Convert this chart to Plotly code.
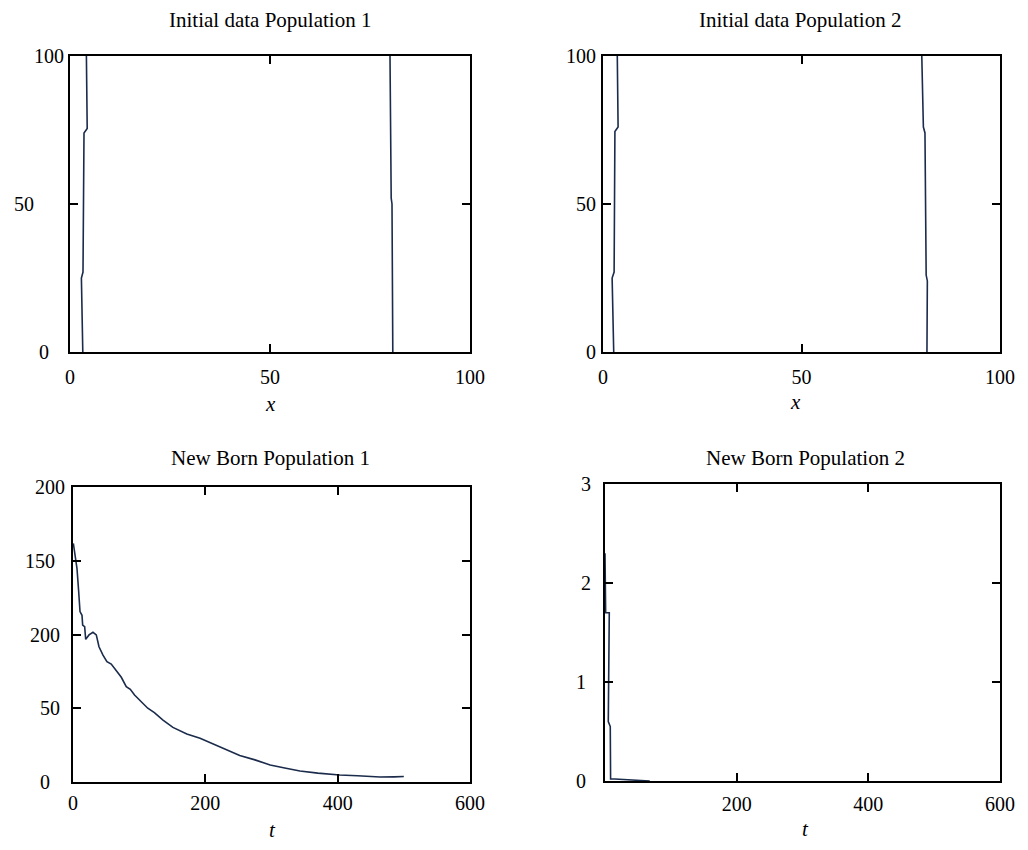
import plotly.graph_objects as go

# page is drawn with an 8px body margin, so the figure is 8px smaller than the window
OFF = 8
FW, FH = 1020, 842

# ---- data ----
# Initial data Population 1 (x vs value)
p1_left_x = [3.2, 2.85, 3.25, 3.5, 4.3, 4.1]
p1_left_y = [0, 25, 27, 74, 75.5, 100]
p1_right_x = [80.7, 80.5, 80.3, 80.0]
p1_right_y = [0, 50, 52, 100]

# Initial data Population 2
p2_left_x = [2.7, 2.3, 2.8, 3.0, 3.8, 3.6]
p2_left_y = [0, 25, 27, 74.5, 76, 100]
p2_right_x = [81.6, 81.7, 81.4, 81.1, 80.7, 80.3]
p2_right_y = [0, 24, 26, 74, 76, 100]

# New Born Population 1 (t vs value)
nb1_t = [0.5, 4, 6, 8.6, 10.6, 13.6, 14.6, 17.6, 19.2, 24.2, 30.2, 35.2, 39.3, 45.3,
         51.3, 57.8, 64.4, 73, 80.5, 86.6, 93, 103, 113, 123, 136, 151, 172, 192,
         210, 230, 252, 275, 298, 320, 343, 370, 403, 430, 464, 485, 500]
nb1_v = [161.8, 150.5, 144.9, 129, 115.5, 113, 106.4, 105.3, 96.7, 99.7, 101.5, 99.7,
         91.7, 86, 81.6, 80, 76, 71, 64.6, 62.8, 59, 54.4, 50, 47, 42, 37, 32.5, 29.6,
         26, 22, 18, 15, 11.5, 9.5, 7.5, 6, 4.7, 4.2, 3.4, 3.5, 3.7]

# New Born Population 2
nb2_t = [0, 1, 6.5, 5, 8, 8.5, 15, 68]
nb2_v = [2.3, 1.7, 1.7, 0.6, 0.55, 0.02, 0.02, 0.0]

# tick values / labels
init_ticks = [0, 50, 100]
init_ticktext = ["0", "50", "100"]
nb1_yticks = [0, 50, 100, 150, 200]
nb1_yticktext = ["0", "50", "200", "150", "200"]
nb1_xticks = [0, 200, 400, 600]
nb2_yticks = [0, 1, 2, 3]
nb2_yticktext = ["0", "1", "2", "3"]
nb2_xticks = [200, 400, 600]

titles = ["Initial data Population 1", "Initial data Population 2",
          "New Born Population 1", "New Born Population 2"]
axis_titles = ["x", "x", "t", "t"]

LINE = "#1b2b4b"
FONT = "Liberation Serif"
NB = "\u00a0"


def pad(labels, counts):
    return [lab + NB * c for lab, c in zip(labels, counts)]


fig = go.Figure()


def add_line(x, y, n):
    fig.add_trace(go.Scatter(x=x, y=y, mode="lines",
                             xaxis=f"x{n}" if n > 1 else "x",
                             yaxis=f"y{n}" if n > 1 else "y",
                             line=dict(color=LINE, width=1.6), showlegend=False,
                             hoverinfo="skip"))


add_line(p1_left_x, p1_left_y, 1)
add_line(p1_right_x, p1_right_y, 1)
add_line(p2_left_x, p2_left_y, 2)
add_line(p2_right_x, p2_right_y, 2)
add_line(nb1_t, nb1_v, 3)
add_line(nb2_t, nb2_v, 4)

# page-pixel boxes (left, right, top, bottom)
boxes = [(70, 470, 56, 352), (603, 1000, 56, 352), (73, 470, 487, 782), (605, 1000, 484, 781)]


def fx(px):
    return (px - OFF) / FW


def fy(py):
    return 1 - (py - OFF) / FH


common = dict(showline=True, linecolor="black", linewidth=2, mirror="ticks",
              ticks="inside", ticklen=8, tickwidth=1.6, tickcolor="black",
              showgrid=False, zeroline=False, automargin=False,
              tickfont=dict(family=FONT, size=20, color="black"))

layout = dict(
    width=FW, height=FH, margin=dict(l=0, r=0, t=0, b=0),
    paper_bgcolor="white", plot_bgcolor="white", showlegend=False,
)

xspecs = [
    dict(range=[0, 100], tickvals=init_ticks, ticklabelstandoff=6),
    dict(range=[0, 100], tickvals=init_ticks, ticklabelstandoff=6),
    dict(range=[0, 600], tickvals=nb1_xticks, ticklabelstandoff=2),
    dict(range=[0, 600], tickvals=nb2_xticks, ticklabelstandoff=4),
]
yspecs = [
    dict(range=[0, 100], tickvals=init_ticks,
         ticktext=pad(init_ticktext, [3, 6, 0]), ticklabelstandoff=0),
    dict(range=[0, 100], tickvals=init_ticks, ticklabelstandoff=1),
    dict(range=[0, 200], tickvals=nb1_yticks,
         ticktext=pad(nb1_yticktext, [3, 1, 1, 2, 0]), ticklabelstandoff=2),
    dict(range=[0, 3], tickvals=nb2_yticks,
         ticktext=pad(nb2_yticktext, [1, 1, 0, 0]), ticklabelstandoff=8),
]

for i in range(4):
    n = "" if i == 0 else str(i + 1)
    b = boxes[i]
    xa = dict(common, domain=[fx(b[0]), fx(b[1])], anchor=f"y{n}", **xspecs[i])
    ya = dict(common, domain=[fy(b[3]), fy(b[2])], anchor=f"x{n}", **yspecs[i])
    layout[f"xaxis{n}"] = xa
    layout[f"yaxis{n}"] = ya

fig.update_layout(**layout)

title_pos = [(270, 20), (800, 20), (270, 458), (805, 458)]
for (px, py), txt in zip(title_pos, titles):
    fig.add_annotation(x=fx(px), y=fy(py), xref="paper", yref="paper", text=txt,
                       showarrow=False, xanchor="center", yanchor="middle",
                       font=dict(family=FONT, size=21, color="black"))

axis_title_pos = [(270, 404), (795, 402), (272, 830), (805, 829)]
for (px, py), txt in zip(axis_title_pos, axis_titles):
    fig.add_annotation(x=fx(px), y=fy(py), xref="paper", yref="paper",
                       text=f"<i>{txt}</i>", showarrow=False, xanchor="center",
                       yanchor="middle", font=dict(family=FONT, size=21, color="black"))

fig.write_html("out.html")
